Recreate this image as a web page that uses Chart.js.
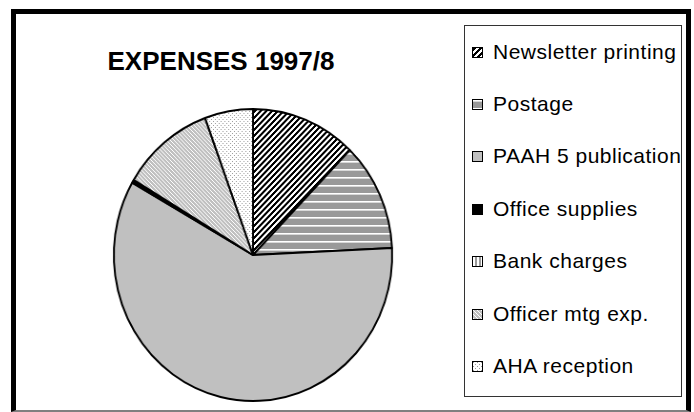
<!DOCTYPE html>
<html>
<head>
<meta charset="utf-8">
<title>EXPENSES 1997/8</title>
<script src="https://cdn.jsdelivr.net/npm/chart.js@4/dist/chart.umd.min.js"></script>
<style>
    html, body { margin: 0; padding: 0; background: #fff; }
    body {
        width: 694px; height: 412px; position: relative; overflow: hidden;
        font-family: "Liberation Sans", Arial, sans-serif; color: #000;
    }
    #frame {
        position: absolute; left: 11px; top: 9px; width: 670px; height: 396px;
        border: 5px solid #000; border-bottom: 2px solid #808080;
    }
    #title {
        position: absolute; left: 0; top: 48px; width: 442px;
        font-weight: bold; font-size: 26px; line-height: 26px; text-align: center;
    }
    #pie { position: absolute; left: 110px; top: 105px; }
    #legend {
        position: absolute; left: 464px; top: 25px; width: 216px; height: 370px;
        border: 1px solid #333; padding: 0; box-sizing: content-box;
    }
    #legend .item {
        position: absolute; left: 7px; height: 21px;
        display: flex; align-items: center; white-space: nowrap;
        font-size: 21px; line-height: 21px; letter-spacing: 0.5px;
    }
    #legend .swatch {
        width: 9px; height: 9px; border: 1px solid #000; margin-right: 10px;
        position: relative; top: 1px; flex: none;
    }
</style>
</head>
<body>
<div id="frame"></div>
<div id="title">EXPENSES 1997/8</div>
<!-- inline size: pie is drawn a little taller than wide, as in the original -->
<canvas id="pie" width="300" height="300" style="width:285.7px;height:300px"></canvas>
<div id="legend"></div>

<script>
// ---- Data (share of total expenses, %) ----
const categories = [
    "Newsletter printing",
    "Postage",
    "PAAH 5 publication",
    "Office supplies",
    "Bank charges",
    "Officer mtg exp.",
    "AHA reception",
];
const amounts = [12.25, 12.0, 59.0, 0.15, 0.2, 10.8, 5.6];

(function () {
    "use strict";

    // ---- Fill tiles: tiny canvases reused as pie patterns + legend swatches ----
    function makeTile(w, h, paint) {
        const c = document.createElement("canvas");
        c.width = w; c.height = h;
        const g = c.getContext("2d");
        paint(g, w, h);
        return c;
    }
    function px(g, x, y, color) { g.fillStyle = color; g.fillRect(x, y, 1, 1); }

    const tiles = [
        // diagonal black/white stripes
        makeTile(6, 6, (g, w, h) => {
            for (let y = 0; y < h; y++) for (let x = 0; x < w; x++)
                px(g, x, y, (x + y) % 6 < 3 ? "#000" : "#fff");
        }),
        // gray with thin white horizontal lines
        makeTile(1, 8, (g, w, h) => {
            g.fillStyle = "#999"; g.fillRect(0, 0, w, h);
            px(g, 0, 0, "#fff"); px(g, 0, 1, "#d8d8d8");
        }),
        // plain light gray
        makeTile(1, 1, (g) => px(g, 0, 0, "#c0c0c0")),
        // solid black
        makeTile(1, 1, (g) => px(g, 0, 0, "#000")),
        // vertical white/gray stripes
        makeTile(4, 1, (g) => {
            px(g, 0, 0, "#fff"); px(g, 1, 0, "#fff");
            px(g, 2, 0, "#999"); px(g, 3, 0, "#999");
        }),
        // light gray with white back-diagonals
        makeTile(4, 4, (g, w, h) => {
            for (let y = 0; y < h; y++) for (let x = 0; x < w; x++)
                px(g, x, y, (x - y + 4) % 4 === 0 ? "#fff" : "#c0c0c0");
        }),
        // white with gray dots
        makeTile(4, 4, (g, w, h) => {
            g.fillStyle = "#fff"; g.fillRect(0, 0, w, h);
            px(g, 0, 0, "#999"); px(g, 2, 2, "#999");
        }),
    ];

    const canvas = document.getElementById("pie");
    const ctx = canvas.getContext("2d");
    const fills = tiles.map(t => ctx.createPattern(t, "repeat"));

    new Chart(canvas, {
        type: "pie",
        data: {
            labels: categories,
            datasets: [{
                data: amounts,
                backgroundColor: fills,
                borderColor: "#000",
                borderWidth: 2,
            }],
        },
        options: {
            responsive: false,
            animation: false,
            layout: { padding: 3 },
            plugins: {
                legend: { display: false },
                tooltip: { enabled: false },
            },
        },
    });

    // ---- Legend (boxed, right side) ----
    const legend = document.getElementById("legend");
    categories.forEach((name, i) => {
        const row = document.createElement("div");
        row.className = "item";
        row.style.top = (14.5 + i * 52.4) + "px";
        const sw = document.createElement("span");
        sw.className = "swatch";
        sw.style.backgroundImage = "url(" + tiles[i].toDataURL() + ")";
        const label = document.createElement("span");
        label.textContent = name;
        row.appendChild(sw);
        row.appendChild(label);
        legend.appendChild(row);
    });
})();
</script>
</body>
</html>
